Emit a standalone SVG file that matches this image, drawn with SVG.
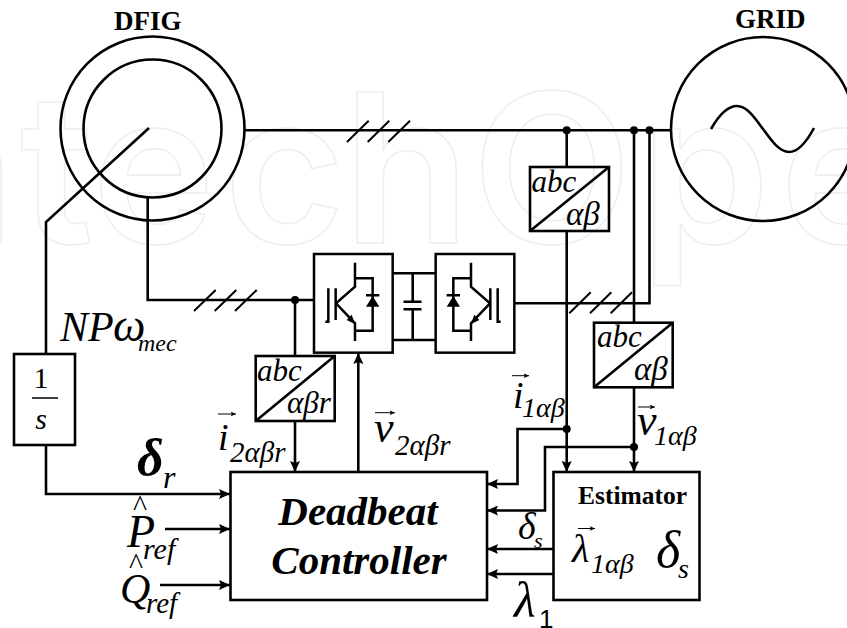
<svg xmlns="http://www.w3.org/2000/svg" width="847" height="628" viewBox="0 0 847 628">
<style>
.l{fill:none;stroke:#000;stroke-width:2.6}
.t{fill:none;stroke:#000;stroke-width:2}
.c{fill:none;stroke:#000;stroke-width:2.6;marker-end:url(#a)}
.v{fill:none;stroke:#000;stroke-width:1;marker-end:url(#v)}
.d{fill:#000}
text{font-family:"Liberation Serif","Times New Roman",serif;font-style:italic;fill:#000}
.b{font-weight:bold;font-style:normal}
.wm{font-family:Inter,sans-serif;font-style:normal;font-weight:600;font-size:208px;fill:#fff;stroke:#eeeeee;stroke-width:1.5}
</style>
<defs>
<marker id="a" markerUnits="userSpaceOnUse" markerWidth="12" markerHeight="10" refX="11" refY="5" orient="auto"><path d="M0 0L11 5L0 10L2 5Z" fill="#000"/></marker>
<marker id="v" markerUnits="userSpaceOnUse" markerWidth="6" markerHeight="6" refX="5.500" refY="3" orient="auto"><path d="M0 0.500L5.500 3L0 5.500L1.500 3Z" fill="#000"/></marker>
</defs>
<rect width="847" height="628" fill="#fff"/>
<text class="wm" y="243" x="-112 20 92 224 343 472 640 780">ntechOpe</text>
<g id="connectors">
<path class="l" d="M245 130.300H672"/>
<path class="l" d="M149 128L46 222V354"/>
<path class="c" d="M46 445V494H230"/>
<path class="c" d="M165 529H230"/>
<path class="c" d="M160 585H230"/>
<path class="l" d="M147.700 196V300H314"/>
<path class="l" d="M295 300V356"/>
<path class="c" d="M295 421V472"/>
<path class="c" d="M358.300 472V353"/>
<path class="l" d="M566.700 130.300V167"/>
<path class="c" d="M566.700 231V472"/>
<path class="l" d="M634 130.300V322.700"/>
<path class="c" d="M634 387.300V472"/>
<path class="l" d="M649.500 130.300V303.300H515"/>
<path class="c" d="M566.700 429H517.500V484H487"/>
<path class="c" d="M634 447H545V510.500H487"/>
<path class="c" d="M553.500 549H487"/>
<path class="c" d="M553.500 574H487"/>
<path class="t" d="M347 142L368.700 120.700M367.700 142L389.300 120.700M388.300 142L410 120.700"/>
<path class="t" d="M194 311L215.700 290M214.700 311L236.300 290M235 311L256.700 290"/>
<path class="t" d="M569.300 313.300L590.700 292.300M590 313.300L611.300 292.300M610.700 313.300L632 292.300"/>
<circle class="d" cx="566.700" cy="130.300" r="4"/>
<circle class="d" cx="634" cy="130.300" r="4"/>
<circle class="d" cx="649.500" cy="130.300" r="4"/>
<circle class="d" cx="295" cy="300" r="4"/>
<circle class="d" cx="566.700" cy="429" r="4"/>
<circle class="d" cx="634" cy="447" r="4"/>
</g>
<g id="dfig">
<circle class="l" cx="152.500" cy="128.500" r="92"/>
<circle class="l" cx="152.500" cy="128.500" r="69"/>
<text class="b" x="114" y="30" font-size="27">DFIG</text>
</g>
<g id="grid">
<circle class="l" cx="763" cy="129" r="92"/>
<path class="l" d="M711 129C719 115 728 106 737 106C747 106 755 118 763 129C771 140 779 152 789 152C799 152 807 141 814 128"/>
<text class="b" x="735" y="28" font-size="27">GRID</text>
</g>
<g id="integrator">
<rect class="l" x="14" y="354" width="61" height="91" fill="#fff"/>
<text x="41" y="388" font-size="30" text-anchor="middle" style="font-style:normal">1</text>
<path class="t" d="M32 398H58" style="stroke-width:1.500"/>
<text x="41" y="429" font-size="30" text-anchor="middle">s</text>
</g>
<g id="abc1">
<rect class="l" x="530" y="167" width="79" height="64"/>
<path class="l" d="M530 231L609 167"/>
<text x="531.500" y="192" font-size="31">abc</text>
<text x="566" y="225" font-size="33">αβ</text>
</g>
<g id="abc2">
<rect class="l" x="594" y="322.700" width="78.700" height="64.600"/>
<path class="l" d="M594 387.300L672.700 322.700"/>
<text x="597" y="347" font-size="31">abc</text>
<text x="634" y="379.500" font-size="33">αβ</text>
</g>
<g id="abc3">
<rect class="l" x="255.700" y="356" width="79" height="65"/>
<path class="l" d="M255.700 421L334.700 356"/>
<text x="257" y="381" font-size="31">abc</text>
<text x="287" y="413" font-size="31">αβr</text>
</g>
<g id="rotor-converter" transform="translate(300 240) scale(.33333)">
<g stroke="#000" stroke-width="7.500" fill="none">
<rect x="42" y="42" width="236" height="296"/>
<path d="M165 68V140L108 190L165 250V303M165 115H218V272H165M198 166H238M85 145V245H76M107 145V240"/>
</g>
<path d="M198 200H238L218 168Z"/>
<path d="M165 252L140 240L155 224Z"/>
</g>
<g id="grid-converter" transform="translate(300 240) scale(.33333)">
<g stroke="#000" stroke-width="7.500" fill="none">
<rect x="407" y="42" width="236" height="296"/>
<path d="M513 68V140L570 190L513 250V303M513 115H460V272H513M440 166H480M593 145V245H602M571 145V240"/>
</g>
<path d="M440 200H480L460 168Z"/>
<path d="M513 252L538 240L523 224Z"/>
</g>
<g id="dc-link">
<path class="l" d="M392.700 273.300H435.700M392.700 340H435.700M412.700 273.300V301.700M412.700 309.300V340M403.500 301.700H421.500M403.500 309.300H421.500"/>
</g>
<g id="controller">
<rect class="l" x="230.500" y="472" width="256.500" height="128"/>
<text class="b" x="358" y="525" font-size="41" text-anchor="middle" style="font-style:italic">Deadbeat</text>
<text class="b" x="359" y="574" font-size="41" text-anchor="middle" style="font-style:italic">Controller</text>
</g>
<g id="estimator">
<rect class="l" x="553.500" y="472" width="146" height="128"/>
<text class="b" x="578" y="504" font-size="25.500">Estimator</text>
<path class="v" d="M578 528.500H595"/>
<text x="572" y="562" font-size="40">λ</text>
<text x="591" y="573" font-size="28">1αβ</text>
<text x="656" y="567" font-size="52">δ</text>
<text x="678" y="578" font-size="28">s</text>
</g>
<g id="labels">
<text x="60" y="341" font-size="42">NP</text>
<text x="113" y="341" font-size="46">ω</text>
<text x="138" y="351" font-size="24">mec</text>
<text x="137" y="475" font-size="52" font-weight="bold">δ</text>
<text x="163" y="488" font-size="32">r</text>
<text x="133" y="516" font-size="30" style="font-style:normal">^</text>
<text x="127" y="547" font-size="46">P</text>
<text x="143" y="559" font-size="30">ref</text>
<text x="129" y="574" font-size="30" style="font-style:normal">^</text>
<text x="120" y="603" font-size="42">Q</text>
<text x="146" y="613" font-size="29">ref</text>
<path class="v" d="M218 414H236"/>
<text x="218" y="450" font-size="38">i</text>
<text x="230" y="461.500" font-size="29">2αβr</text>
<path class="v" d="M375 412.700H395"/>
<text x="374" y="441.500" font-size="44">v</text>
<text x="395" y="455" font-size="29">2αβr</text>
<path class="v" d="M512 375.700H529"/>
<text x="513" y="408" font-size="38">i</text>
<text x="522" y="417" font-size="28">1αβ</text>
<path class="v" d="M638 407H655"/>
<text x="637" y="435" font-size="44">v</text>
<text x="654" y="445" font-size="28">1αβ</text>
<text x="518" y="539" font-size="38">δ</text>
<text x="534" y="548" font-size="22">s</text>
<text x="514" y="617" font-size="50">λ</text>
<text x="539" y="628" font-size="26" style="font-family:'Liberation Sans',sans-serif;font-style:normal">1</text>
</g>
</svg>
